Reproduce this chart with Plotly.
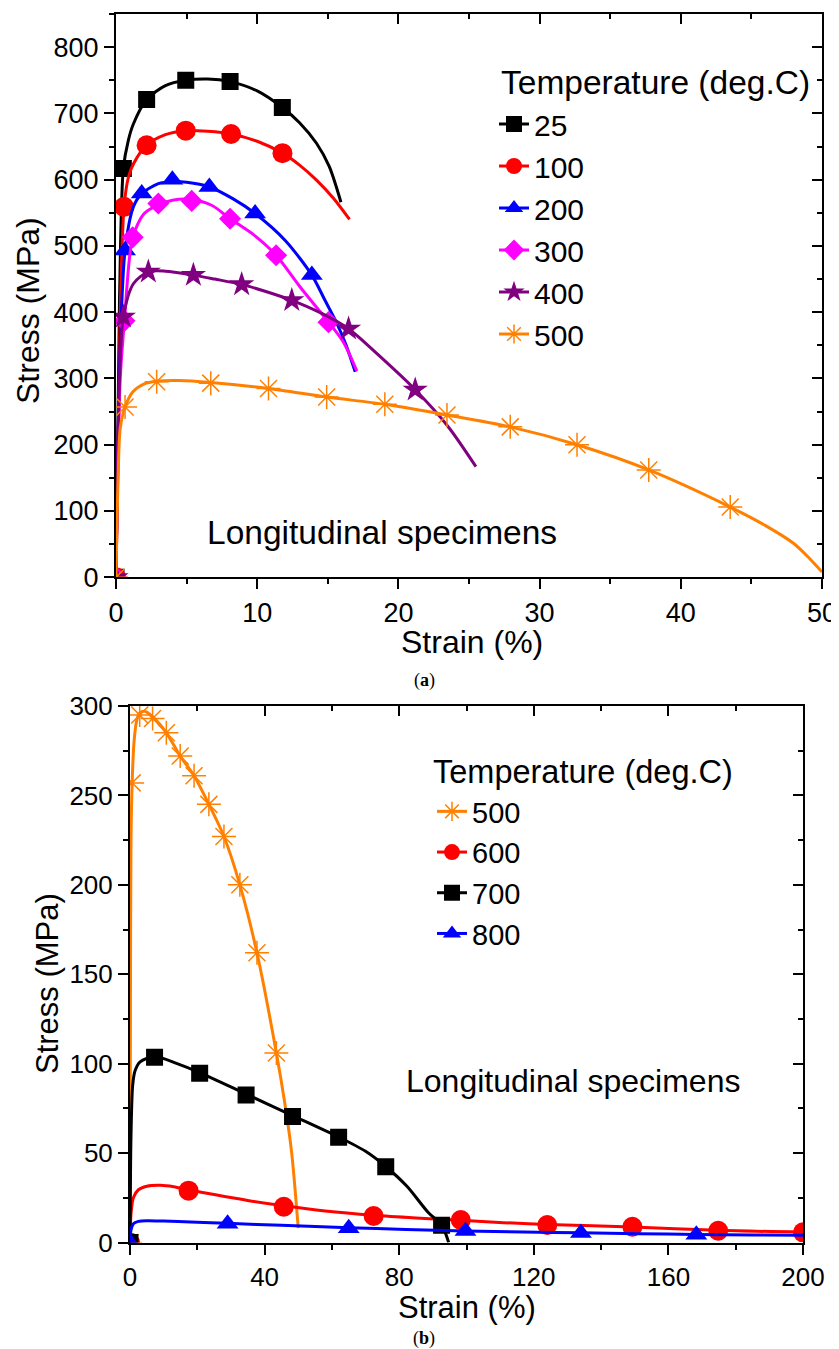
import plotly.graph_objects as go

# ---------------- data: panel (a) ----------------
strain_25 = [0, 0.25, 0.52, 0.87, 1.23, 2.17, 3.5, 4.94, 6.5, 8.08, 10, 11.78, 13.0, 14.2, 15.1, 15.93]
stress_25 = [0, 420, 617, 659, 684, 721, 742, 750, 752, 748, 734, 709, 686, 655, 620, 566]
mk_strain_25 = [0, 0.52, 2.17, 4.94, 8.08, 11.78]
mk_stress_25 = [0, 617, 721, 750, 748, 709]

strain_100 = [0, 0.3, 0.57, 0.88, 1.24, 2.17, 3.5, 4.94, 6.5, 8.15, 10, 11.79, 13.0, 14.22, 15.4, 16.54]
stress_100 = [0, 400, 559, 604, 624, 652, 668, 674, 673, 669, 658, 640, 622, 599, 572, 540]
mk_strain_100 = [0, 0.57, 2.17, 4.94, 8.15, 11.79]
mk_stress_100 = [0, 559, 652, 674, 669, 640]

strain_200 = [0, 0.3, 0.64, 1.23, 1.82, 3, 3.99, 5, 6.61, 8.3, 9.85, 12, 13.87, 14.8, 15.6, 16.3, 16.94]
stress_200 = [0, 350, 493, 559, 579, 594, 597, 596, 589, 571, 549, 508, 456, 418, 385, 350, 310]
mk_strain_200 = [0, 0.64, 1.82, 3.99, 6.61, 9.85, 13.87]
mk_stress_200 = [0, 493, 579, 600, 589, 549, 456]

strain_300 = [0, 0.3, 0.6, 1.18, 2, 3, 4, 5.36, 6.8, 8.08, 9.8, 11.34, 13.04, 15.05, 16.1, 17.06]
stress_300 = [0, 300, 387, 513, 549, 562, 569, 570, 561, 541, 516, 486, 438, 385, 355, 311]
mk_strain_300 = [0, 0.6, 1.18, 3.0, 5.36, 8.08, 11.34, 15.05]
mk_stress_300 = [0, 387, 513, 564, 568, 541, 486, 385]

strain_400 = [0, 0.25, 0.52, 1.23, 2.29, 3.5, 5.48, 7, 8.9, 10.5, 12.45, 14.5, 16.47, 18.5, 21.19, 23.5, 25.49]
stress_400 = [0, 300, 393, 443, 461, 462, 456, 450, 442, 432, 418, 399, 375, 337, 283, 228, 167]
mk_strain_400 = [0, 0.52, 2.29, 5.48, 8.9, 12.45, 16.47, 21.19]
mk_stress_400 = [0, 393, 461, 456, 442, 418, 375, 283]

strain_500 = [0, 0.15, 0.3, 0.64, 1.2, 2, 2.88, 4.5, 6.71, 10.8, 14.92, 19.04, 23.44, 27.92, 32.65, 37.73, 43.5, 46, 48, 49, 50]
stress_500 = [0, 150, 225, 257, 280, 292, 296, 297, 294, 285, 272, 261, 245, 227, 200, 162, 106, 78, 51, 31, 8]
mk_strain_500 = [0, 0.64, 2.88, 6.71, 10.8, 14.92, 19.04, 23.44, 27.92, 32.65, 37.73, 43.5]
mk_stress_500 = [0, 257, 295, 293, 285, 272, 261, 245, 227, 200, 162, 106]

# ---------------- data: panel (b) ----------------
strain_600 = [0, 0.3, 1, 2.5, 5, 9, 13, 17.4, 25, 35, 45.7, 58, 72.4, 85, 98.3, 111, 124, 149.3, 174.8, 200]
stress_600 = [0, 16, 25, 29.5, 31.5, 32, 31.2, 29.5, 26.8, 23.5, 20.5, 17.6, 15.2, 13.7, 12.4, 11.1, 10.0, 8.7, 6.8, 5.8]
mk_strain_600 = [0, 17.4, 45.7, 72.4, 98.3, 124, 149.3, 174.8, 200]
mk_stress_600 = [0, 29, 20, 14.8, 12.6, 9.8, 8.8, 6.6, 5.7]

strain_700 = [0, 0.3, 0.8, 1.5, 3, 7.3, 14, 20.7, 34.5, 48.3, 62, 70, 76, 82.3, 88.7, 92.6, 94.7]
stress_700 = [0, 60, 88, 96, 101, 104, 100, 95, 83, 71, 59, 51, 42.5, 31.4, 16.6, 9.8, 0]
mk_strain_700 = [0, 7.3, 20.7, 34.5, 48.3, 62, 76, 92.6]
mk_stress_700 = [0, 103.6, 94.6, 82.5, 70.4, 58.8, 42.4, 9.6]

strain_800 = [0, 0.3, 1, 2.5, 5, 10, 18, 29, 45, 65, 82, 99.7, 117, 134, 151, 168.3, 185, 200]
stress_800 = [0, 7, 10.5, 11.8, 12.2, 12, 11.5, 10.7, 9.6, 8.3, 7.3, 6.5, 5.9, 5.4, 4.9, 4.5, 4.2, 4.0]
mk_strain_800 = [0, 29, 65, 99.7, 134, 168.3]
mk_stress_800 = [0, 10.5, 8, 6.4, 5.3, 4.4]

FONT = "Arial, Liberation Sans, sans-serif"
OFF = 8  # page body margin
W, H = 839 - OFF, 1349 - OFF

def px(xp):
    return (xp - OFF) / W

def py(yp):
    return 1 - (yp - OFF) / H

fig = go.Figure()

def add_series(name, xs, ys, mxs, mys, color, symbol, size, xa, ya, legend, open_marker=False):
    fig.add_trace(go.Scatter(x=xs, y=ys, mode="lines", line=dict(color=color, width=3, shape="spline", smoothing=0.8),
                             xaxis=xa, yaxis=ya, showlegend=False, hoverinfo="skip"))
    if open_marker:
        mk = dict(symbol=symbol, size=size, color=color, line=dict(color=color, width=1.5))
    else:
        mk = dict(symbol=symbol, size=size, color=color, line=dict(width=0))
    fig.add_trace(go.Scatter(x=mxs, y=mys, mode="markers", marker=mk, xaxis=xa, yaxis=ya,
                             showlegend=False, hoverinfo="skip"))
    fig.add_trace(go.Scatter(x=[None], y=[None], mode="lines+markers", name=name,
                             line=dict(color=color, width=3), marker=mk,
                             xaxis=xa, yaxis=ya, legend=legend))

# panel (a)
add_series("25", strain_25, stress_25, mk_strain_25, mk_stress_25, "#000000", "square", 17, "x", "y", "legend")
add_series("100", strain_100, stress_100, mk_strain_100, mk_stress_100, "#FF0000", "circle", 20, "x", "y", "legend")
add_series("200", strain_200, stress_200, mk_strain_200, mk_stress_200, "#0000FF", "triangle-up", 19, "x", "y", "legend")
add_series("300", strain_300, stress_300, mk_strain_300, mk_stress_300, "#FF00FF", "diamond", 17, "x", "y", "legend")
add_series("400", strain_400, stress_400, mk_strain_400, mk_stress_400, "#800080", "star", 19, "x", "y", "legend")
add_series("500", strain_500, stress_500, mk_strain_500, mk_stress_500, "#FF8000", "asterisk-open", 20, "x", "y", "legend", True)

# panel (b)
add_series("500", strain_500, stress_500, mk_strain_500, mk_stress_500, "#FF8000", "asterisk-open", 20, "x2", "y2", "legend2", True)
add_series("600", strain_600, stress_600, mk_strain_600, mk_stress_600, "#FF0000", "circle", 20, "x2", "y2", "legend2")
add_series("700", strain_700, stress_700, mk_strain_700, mk_stress_700, "#000000", "square", 17, "x2", "y2", "legend2")
add_series("800", strain_800, stress_800, mk_strain_800, mk_stress_800, "#0000FF", "triangle-up", 19, "x2", "y2", "legend2")

# dummy traces so mirror axes are drawn
fig.add_trace(go.Scatter(x=[None], y=[None], xaxis="x3", yaxis="y3", showlegend=False))
fig.add_trace(go.Scatter(x=[None], y=[None], xaxis="x4", yaxis="y4", showlegend=False))

def ax(domain, rng, dtick, mdtick, anchor, tfs, ticks="outside", labels=True, side=None, overlaying=None):
    d = dict(domain=domain, range=rng, dtick=dtick, tick0=0, ticks=ticks, ticklen=10, tickwidth=2,
             tickcolor="black", showline=True, linewidth=2, linecolor="black", showgrid=False,
             zeroline=False, showticklabels=labels, anchor=anchor, automargin=False,
             tickfont=dict(family=FONT, size=tfs, color="black"),
             minor=dict(dtick=mdtick, tick0=0, ticks=ticks, ticklen=5, tickwidth=2, tickcolor="black", showgrid=False))
    if side:
        d["side"] = side
    if overlaying:
        d["overlaying"] = overlaying
        d.pop("domain")
    return d

xa_dom = [px(116), px(822)]
ya_dom = [py(577.3), py(14)]
xb_dom = [px(130), px(803)]
yb_dom = [py(1242.5), py(706)]

fig.update_layout(
    template="none",
    width=W, height=H,
    margin=dict(l=0, r=0, t=0, b=0, pad=0, autoexpand=False),
    paper_bgcolor="white", plot_bgcolor="white",
    font=dict(family=FONT, color="black"),
    xaxis=ax(xa_dom, [0, 50], 10, 5, "y", 27),
    yaxis=ax(ya_dom, [0, 850], 100, 50, "x", 27),
    xaxis3=ax(None, [0, 50], 10, 5, "y", 27, ticks="inside", labels=False, side="top", overlaying="x"),
    yaxis3=ax(None, [0, 850], 100, 50, "x", 27, ticks="inside", labels=False, side="right", overlaying="y"),
    xaxis2=ax(xb_dom, [0, 200], 40, 20, "y2", 26),
    yaxis2=ax(yb_dom, [0, 300], 50, 25, "x2", 26),
    xaxis4=ax(None, [0, 200], 40, 20, "y2", 26, ticks="inside", labels=False, side="top", overlaying="x2"),
    yaxis4=ax(None, [0, 300], 50, 25, "x2", 26, ticks="inside", labels=False, side="right", overlaying="y2"),
    legend=dict(x=px(494), y=py(98), xanchor="left", yanchor="top", bgcolor="rgba(0,0,0,0)",
                font=dict(family=FONT, size=30, color="black"), tracegroupgap=0, itemwidth=30),
    legend2=dict(x=px(432), y=py(786), xanchor="left", yanchor="top", bgcolor="rgba(0,0,0,0)",
                 font=dict(family=FONT, size=29, color="black"), tracegroupgap=0, itemwidth=30),
    showlegend=True,
)

ann = [
    dict(text="Temperature (deg.C)", x=px(655), y=py(83), font=dict(size=33.5)),
    dict(text="Temperature (deg.C)", x=px(583), y=py(772), font=dict(size=32.5)),
    dict(text="Longitudinal specimens", x=px(382), y=py(532), font=dict(size=33.5)),
    dict(text="Longitudinal specimens", x=px(573), y=py(1081), font=dict(size=32)),
    dict(text="Strain (%)", x=px(472), y=py(642), font=dict(size=32)),
    dict(text="Strain (%)", x=px(467), y=py(1307), font=dict(size=31)),
    dict(text="Stress (MPa)", x=px(28), y=py(311), font=dict(size=32), textangle=-90),
    dict(text="Stress (MPa)", x=px(47), y=py(984), font=dict(size=31), textangle=-90),
    dict(text="(<b>a</b>)", x=px(424), y=py(680), font=dict(size=18, family="Liberation Serif, Times New Roman, serif")),
    dict(text="(<b>b</b>)", x=px(424), y=py(1338), font=dict(size=18, family="Liberation Serif, Times New Roman, serif")),
]
for a in ann:
    a.update(xref="paper", yref="paper", xanchor="center", yanchor="middle", showarrow=False)
    a["font"].setdefault("family", FONT)
    a["font"]["color"] = "black"
fig.update_layout(annotations=ann)

fig.write_html("out.html")
